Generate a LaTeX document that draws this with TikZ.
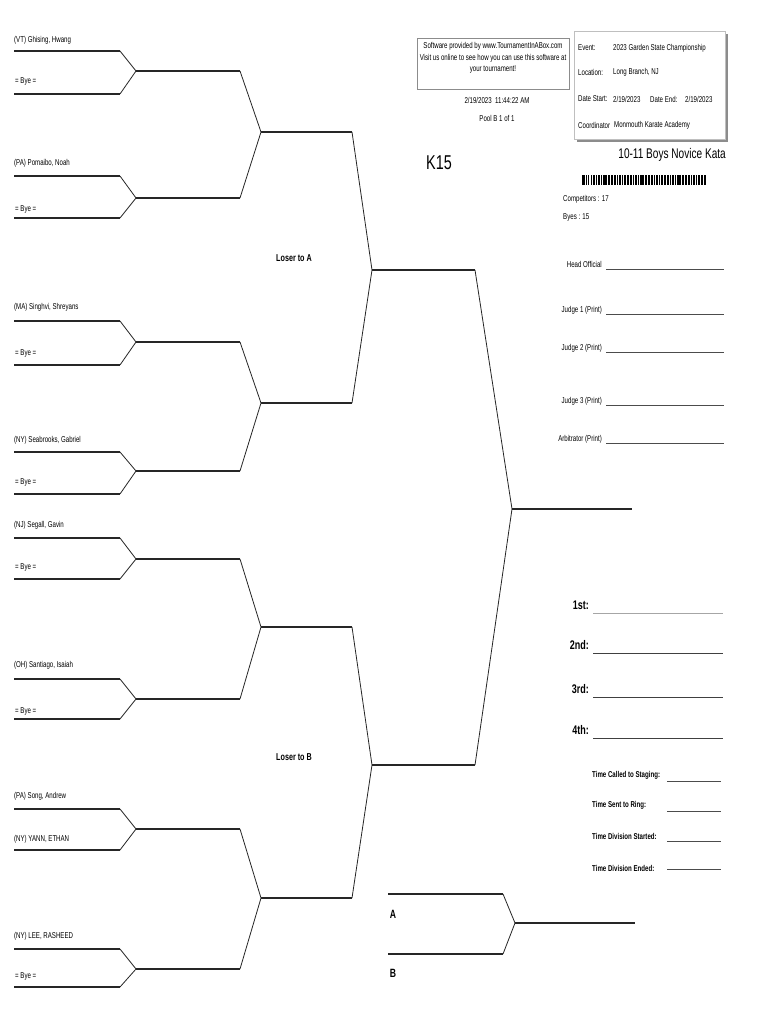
\documentclass[tikz,border=0pt]{standalone}
\usepackage{fontspec}
\setmainfont[FakeStretch=0.72]{Liberation Sans}
\begin{document}
\begin{tikzpicture}[x=1pt,y=-1pt,
  br/.style={line width=1.4pt, black!85},
  dg/.style={line width=0.8pt, black!85},
  lbl/.style={anchor=west, inner sep=0pt, font=\fontsize{8.5}{10}\selectfont},
  rlbl/.style={anchor=base east, inner sep=0pt, font=\fontsize{8.5}{10}\selectfont},
  ctr/.style={inner sep=0pt, font=\fontsize{8.5}{10}\selectfont},
  bold/.style={inner sep=0pt, font=\fontsize{10}{12}\selectfont\bfseries},
  place/.style={anchor=base east, inner sep=0pt, font=\fontsize{12.5}{14}\selectfont\bfseries},
  tlbl/.style={anchor=west, inner sep=0pt, font=\fontsize{8.5}{10}\selectfont\bfseries},
  blank/.style={line width=0.7pt, black!70}]
\useasboundingbox[fill=white] (0,0) rectangle (770,1024);

% ---------- first round pairs ----------
\foreach \i/\t/\b/\j in {1/51/94/71, 2/176/218/198, 3/321/365/342, 4/452/494/471,
                         5/538/579/559, 6/679/719/699, 7/809/850/829, 8/949/987/969}{
  \coordinate (t\i s) at (14,\t);  \coordinate (t\i e) at (120,\t);
  \coordinate (b\i s) at (14,\b);  \coordinate (b\i e) at (120,\b);
  \coordinate (j\i) at (136,\j);   \coordinate (h\i) at (240,\j);
  \draw[br] (t\i s) -- (t\i e);
  \draw[br] (b\i s) -- (b\i e);
  \draw[dg] (t\i e) -- (j\i) -- (b\i e);
  \draw[br] (j\i) -- (h\i);
}
% ---------- second round ----------
\foreach \k/\y/\a/\c in {1/132/1/2, 2/403/3/4, 3/627/5/6, 4/898/7/8}{
  \coordinate (k\k) at (261,\y); \coordinate (m\k) at (352,\y);
  \draw[dg] (h\a) -- (k\k) -- (h\c);
  \draw[br] (k\k) -- (m\k);
}
% ---------- third round ----------
\coordinate (q1) at (372,270); \coordinate (r1) at (475,270);
\coordinate (q2) at (372,765); \coordinate (r2) at (475,765);
\draw[dg] (m1) -- (q1) -- (m2);
\draw[dg] (m3) -- (q2) -- (m4);
\draw[br] (q1) -- (r1);
\draw[br] (q2) -- (r2);
% ---------- final ----------
\coordinate (f) at (512,509); \coordinate (g) at (632,509);
\draw[dg] (r1) -- (f) -- (r2);
\draw[br] (f) -- (g);

% ---------- competitor labels ----------
\node[lbl] (n1) at (14,40)  {(VT) Ghising, Hwang};
\node[lbl] (y1) at (15,81)  {= Bye =};
\node[lbl] (n2) at (14,163) {(PA) Pomaibo, Noah};
\node[lbl] (y2) at (15,209) {= Bye =};
\node[lbl] (n3) at (14,307) {(MA) Singhvi, Shreyans};
\node[lbl] (y3) at (15,353) {= Bye =};
\node[lbl] (n4) at (14,440) {(NY) Seabrooks, Gabriel};
\node[lbl] (y4) at (15,482) {= Bye =};
\node[lbl] (n5) at (14,525) {(NJ) Segall, Gavin};
\node[lbl] (y5) at (15,567) {= Bye =};
\node[lbl] (n6) at (14,665) {(OH) Santiago, Isaiah};
\node[lbl] (y6) at (15,711) {= Bye =};
\node[lbl] (n7) at (14,796) {(PA) Song, Andrew};
\node[lbl] (n8) at (14,839) {(NY) YANN, ETHAN};
\node[lbl] (n9) at (14,936) {(NY) LEE, RASHEED};
\node[lbl] (y8) at (15,976) {= Bye =};

\node[bold] (la) at (294,258) {Loser to A};
\node[bold] (lb) at (294,757) {Loser to B};

% ---------- header ----------
\draw[black!45, line width=0.5pt] (417,38) rectangle (569,89);
\node[ctr] (s1) at (493,46) {Software provided by www.TournamentInABox.com};
\node[ctr] (s2) at (493,58) {Visit us online to see how you can use this software at};
\node[ctr] (s3) at (493,69) {your tournament!};
\node[ctr] (dt) at (497,100) {2/19/2023\ \ 11:44:22 AM};
\node[ctr] (pl) at (497,118) {Pool B 1 of 1};

\fill[black!45] (577,34) rectangle (728,142);
\filldraw[fill=white, draw=black!25, line width=0.4pt] (574,31) rectangle (725,139);
\node[lbl] (ev)  at (578,48)  {Event:};
\node[lbl] (evv) at (613,48)  {2023 Garden State Championship};
\node[lbl] (lo)  at (578,72)  {Location:};
\node[lbl] (lov) at (613,72)  {Long Branch, NJ};
\node[lbl] (ds)  at (578,99)  {Date Start:};
\node[lbl] (dsv) at (613,99)  {2/19/2023};
\node[lbl] (de)  at (650,99)  {Date End:};
\node[lbl] (dev) at (685,99)  {2/19/2023};
\node[lbl] (co)  at (578,125) {Coordinator};
\node[lbl] (cov) at (614,125) {Monmouth Karate Academy};

\node[inner sep=0pt, font=\fontsize{20}{22}\selectfont] (k15) at (439,163) {K15};
\node[anchor=east, inner sep=0pt, font=\fontsize{14}{16}\selectfont] (ttl) at (726,155) {10-11 Boys Novice Kata};

% barcode
\foreach \x/\w in {0/1.6, 2.4/0.8, 4/0.8, 5.6/1.6, 9/0.8, 10.6/2.4, 14/0.8, 16/1.6, 19/0.8, 20.6/0.8,
  22.4/2.4, 26/1.6, 28.6/0.8, 30.4/0.8, 32/1.6, 35/0.8, 36.6/2.4, 40/0.8, 42/1.6, 44.6/0.8,
  46.4/0.8, 48/2.4, 51.4/0.8, 53.2/1.6, 56/0.8, 57.6/0.8, 59.4/2.4, 63/1.6, 65.6/0.8, 67.4/0.8,
  69/1.6, 72/0.8, 73.6/2.4, 77/0.8, 79/1.6, 81.6/0.8, 83.4/0.8, 85/2.4, 88.4/0.8, 90.2/1.6,
  93/0.8, 94.6/0.8, 96.4/2.4, 100/1.6, 102.6/0.8, 104.4/0.8, 106/1.6, 109/0.8, 110.6/2.4,
  114/0.8, 116/1.6, 118.6/0.8, 120.4/0.8, 122/2}{
  \fill[black] (582+\x,175) rectangle ++(\w,10);
}
\node[lbl, font=\fontsize{8.5}{10}\selectfont] (cp) at (563,199) {Competitors : 17};
\node[lbl, font=\fontsize{8.5}{10}\selectfont] (by) at (563,217) {Byes : 15};

% officials
\foreach \n/\txt/\y in {ho/Head Official/269, j1/Judge 1 (Print)/314, j2/Judge 2 (Print)/352,
                        j3/Judge 3 (Print)/405, ar/Arbitrator (Print)/443}{
  \node[rlbl] (\n) at (602,\y-2) {\txt};
  \coordinate (\n a) at (606,\y); \coordinate (\n b) at (724,\y);
  \draw[blank] (\n a) -- (\n b);
}

% placings
\foreach \n/\txt/\y/\c in {p1/1st:/613/black!35, p2/2nd:/653/black!75, p3/3rd:/697/black!75, p4/4th:/738/black!75}{
  \node[place] (\n) at (589,\y-3.5) {\txt};
  \coordinate (\n a) at (593,\y); \coordinate (\n b) at (723,\y);
  \draw[line width=1pt, \c] (\n a) -- (\n b);
}

% times
\foreach \n/\txt/\y/\l in {tc/Time Called to Staging:/775/781, ts/Time Sent to Ring:/805/811,
                           td/Time Division Started:/836/841, te/Time Division Ended:/868/869}{
  \node[tlbl] (\n) at (592,\y) {\txt};
  \coordinate (\n a) at (667,\l); \coordinate (\n b) at (721,\l);
  \draw[blank] (\n a) -- (\n b);
}

% ---------- A / B bracket ----------
\coordinate (as) at (388,894); \coordinate (ae) at (503,894);
\coordinate (bs) at (388,954); \coordinate (be) at (503,954);
\coordinate (ab) at (515,923); \coordinate (abe) at (635,923);
\draw[br] (as) -- (ae);
\draw[br] (bs) -- (be);
\draw[dg] (ae) -- (ab) -- (be);
\draw[br] (ab) -- (abe);
\node[inner sep=0pt, font=\fontsize{12}{14}\selectfont\bfseries] (la2) at (393,914) {A};
\node[inner sep=0pt, font=\fontsize{12}{14}\selectfont\bfseries] (lb2) at (393,973) {B};
\end{tikzpicture}
\end{document}
